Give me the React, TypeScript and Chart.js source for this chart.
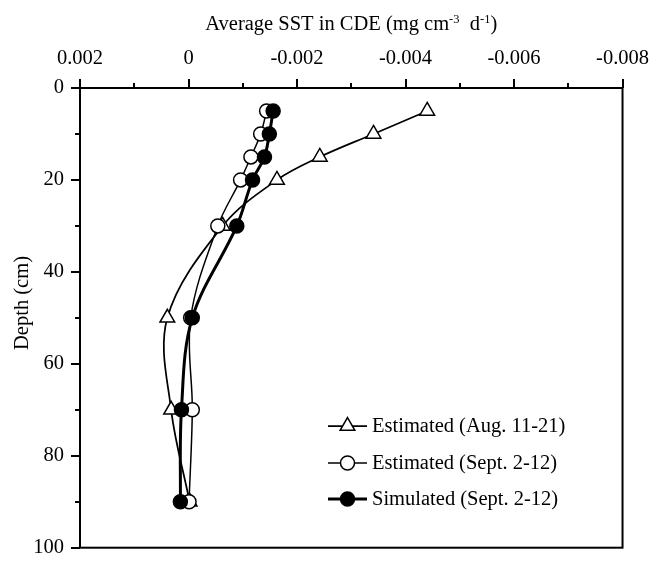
import React, { useEffect, useRef } from 'react';
import { Chart, registerables } from 'chart.js';

Chart.register(...registerables);

// ---- data ----
const depths = [5, 10, 15, 20, 30, 50, 70, 90];
const estAug = [-0.0044, -0.00341, -0.00242, -0.00163, -0.00063, 0.00039, 0.00032, -0.00002];
const estSept = [-0.00144, -0.00133, -0.00115, -0.00096, -0.00054, -0.00004, -0.00007, -0.00001];
const simSept = [-0.00156, -0.00149, -0.0014, -0.00118, -0.00089, -0.00007, 0.00013, 0.00015];
const seriesNames = ['Estimated (Aug. 11-21)', 'Estimated (Sept. 2-12)', 'Simulated (Sept. 2-12)'];
const xTickLabels = [0.002, 0, -0.002, -0.004, -0.006, -0.008];
const yTickLabels = [0, 20, 40, 60, 80, 100];
const xTitleParts = [
  { t: 'Average SST in CDE (mg cm', sup: false },
  { t: '-3', sup: true },
  { t: '  d', sup: false },
  { t: '-1', sup: true },
  { t: ')', sup: false },
];
const yTitle = 'Depth (cm)';

const FAMILY = "'Liberation Serif', 'Times New Roman', serif";
const FS = 20.5;

type Marker = 'triangle' | 'open' | 'filled';
const seriesStyle: { marker: Marker; lw: number }[] = [
  { marker: 'triangle', lw: 1.75 },
  { marker: 'open', lw: 1.5 },
  { marker: 'filled', lw: 3 },
];

function drawMarker(ctx: CanvasRenderingContext2D, m: Marker, x: number, y: number) {
  ctx.save();
  ctx.lineWidth = 1.5;
  ctx.strokeStyle = '#000';
  ctx.beginPath();
  if (m === 'triangle') {
    const r = 8.5;
    let rad = 0;
    ctx.moveTo(x + Math.sin(rad) * r, y - Math.cos(rad) * r);
    rad += (2 * Math.PI) / 3;
    ctx.lineTo(x + Math.sin(rad) * r, y - Math.cos(rad) * r);
    rad += (2 * Math.PI) / 3;
    ctx.lineTo(x + Math.sin(rad) * r, y - Math.cos(rad) * r);
    ctx.closePath();
    ctx.fillStyle = '#fff';
  } else {
    ctx.arc(x, y, 7, 0, Math.PI * 2);
    ctx.fillStyle = m === 'filled' ? '#000' : '#fff';
  }
  ctx.fill();
  ctx.stroke();
  ctx.restore();
}

const decorPlugin = {
  id: 'decor',
  afterDraw(chart: any) {
    const { ctx, chartArea: a, scales } = chart;
    const xs = scales.x;
    const ys = scales.y;
    ctx.save();
    ctx.strokeStyle = '#000';
    ctx.lineWidth = 2;
    ctx.strokeRect(a.left, a.top, a.right - a.left, a.bottom - a.top);

    // tick marks (major & minor) from the library's ticks
    ctx.lineWidth = 2;
    ctx.beginPath();
    xs.ticks.forEach((t: any) => {
      const px = Math.round(xs.getPixelForValue(t.value));
      const major = xTickLabels.some((v) => Math.abs(v - t.value) < 1e-9);
      const len = major ? 9 : 5;
      ctx.moveTo(px, a.top);
      ctx.lineTo(px, a.top - len);
    });
    ys.ticks.forEach((t: any) => {
      const py = Math.round(ys.getPixelForValue(t.value));
      const major = yTickLabels.some((v) => Math.abs(v - t.value) < 1e-9);
      const len = major ? 9 : 5;
      ctx.moveTo(a.left, py);
      ctx.lineTo(a.left - len, py);
    });
    ctx.stroke();

    // x axis title with superscripts
    ctx.fillStyle = '#000';
    ctx.textBaseline = 'alphabetic';
    ctx.textAlign = 'left';
    const mainFont = `${FS}px ${FAMILY}`;
    const supFont = `12.5px ${FAMILY}`;
    const widths = xTitleParts.map((p) => {
      ctx.font = p.sup ? supFont : mainFont;
      return ctx.measureText(p.t).width;
    });
    const total = widths.reduce((s, w) => s + w, 0);
    let x = (a.left + a.right) / 2 - total / 2;
    const base = 30;
    xTitleParts.forEach((p, i) => {
      ctx.font = p.sup ? supFont : mainFont;
      ctx.fillText(p.t, x, p.sup ? base - 7 : base);
      x += widths[i];
    });

    // y axis title
    ctx.save();
    ctx.translate(23, 303);
    ctx.rotate(-Math.PI / 2);
    ctx.font = mainFont;
    ctx.textAlign = 'center';
    ctx.textBaseline = 'middle';
    ctx.fillText(yTitle, 0, 0);
    ctx.restore();

    // legend
    const lx0 = 328;
    const lx1 = 367;
    const ly = [426, 463, 499];
    seriesNames.forEach((name, i) => {
      const st = seriesStyle[i];
      ctx.lineWidth = st.lw;
      ctx.beginPath();
      ctx.moveTo(lx0, ly[i]);
      ctx.lineTo(lx1, ly[i]);
      ctx.stroke();
      drawMarker(ctx, st.marker, (lx0 + lx1) / 2, ly[i]);
      ctx.font = mainFont;
      ctx.textAlign = 'left';
      ctx.textBaseline = 'middle';
      ctx.fillStyle = '#000';
      ctx.fillText(name, 372, ly[i] + 1);
    });
    ctx.restore();
  },
};

export default function App() {
  const ref = useRef<HTMLCanvasElement>(null);
  useEffect(() => {
    const canvas = ref.current!;
    const mk = (vals: number[]) => vals.map((v, i) => ({ x: v, y: depths[i] }));
    const common = {
      borderColor: '#000',
      pointBorderColor: '#000',
      pointBorderWidth: 1.5,
      fill: false,
      tension: 0.35,
    };
    const chart = new Chart(canvas, {
      type: 'line',
      data: {
        datasets: [
          {
            ...common,
            label: seriesNames[0],
            data: mk(estAug),
            borderWidth: seriesStyle[0].lw,
            pointStyle: 'triangle',
            pointRadius: 8.5,
            pointBackgroundColor: '#fff',
            backgroundColor: '#fff',
            order: 3,
          },
          {
            ...common,
            label: seriesNames[1],
            data: mk(estSept),
            borderWidth: seriesStyle[1].lw,
            pointStyle: 'circle',
            pointRadius: 7,
            pointBackgroundColor: '#fff',
            backgroundColor: '#fff',
            order: 2,
          },
          {
            ...common,
            label: seriesNames[2],
            data: mk(simSept),
            borderWidth: seriesStyle[2].lw,
            pointStyle: 'circle',
            pointRadius: 7,
            pointBackgroundColor: '#000',
            backgroundColor: '#000',
            order: 1,
          },
        ],
      },
      options: {
        responsive: false,
        animation: false,
        devicePixelRatio: 1,
        layout: { padding: { left: 0, top: 0, right: 30, bottom: 12 } },
        plugins: {
          legend: { display: false },
          tooltip: { enabled: false },
          title: { display: false },
        },
        scales: {
          x: {
            type: 'linear',
            position: 'top',
            reverse: true,
            min: -0.008,
            max: 0.002,
            grid: { display: false, drawTicks: false },
            border: { display: false },
            afterFit: (s: any) => {
              s.height = 88;
            },
            ticks: {
              stepSize: 0.001,
              autoSkip: false,
              maxRotation: 0,
              padding: 17,
              color: '#000',
              font: { family: FAMILY, size: FS },
              callback: (v: any) => {
                const m = xTickLabels.find((t) => Math.abs(t - Number(v)) < 1e-9);
                return m === undefined ? '' : String(m);
              },
            },
          },
          y: {
            type: 'linear',
            reverse: true,
            min: 0,
            max: 100,
            grid: { display: false, drawTicks: false },
            border: { display: false },
            afterFit: (s: any) => {
              s.width = 80;
            },
            ticks: {
              stepSize: 10,
              autoSkip: false,
              padding: 16,
              color: '#000',
              font: { family: FAMILY, size: FS },
              callback: (v: any) => {
                const m = yTickLabels.find((t) => Math.abs(t - Number(v)) < 1e-9);
                return m === undefined ? '' : String(m);
              },
            },
          },
        },
      },
      plugins: [decorPlugin],
    } as any);
    return () => chart.destroy();
  }, []);

  return (
    <div style={{ position: 'absolute', left: 0, top: 0, width: 666, height: 576, background: '#fff' }}>
      <canvas ref={ref} width={666} height={576} style={{ width: 666, height: 576, display: 'block' }} />
    </div>
  );
}
